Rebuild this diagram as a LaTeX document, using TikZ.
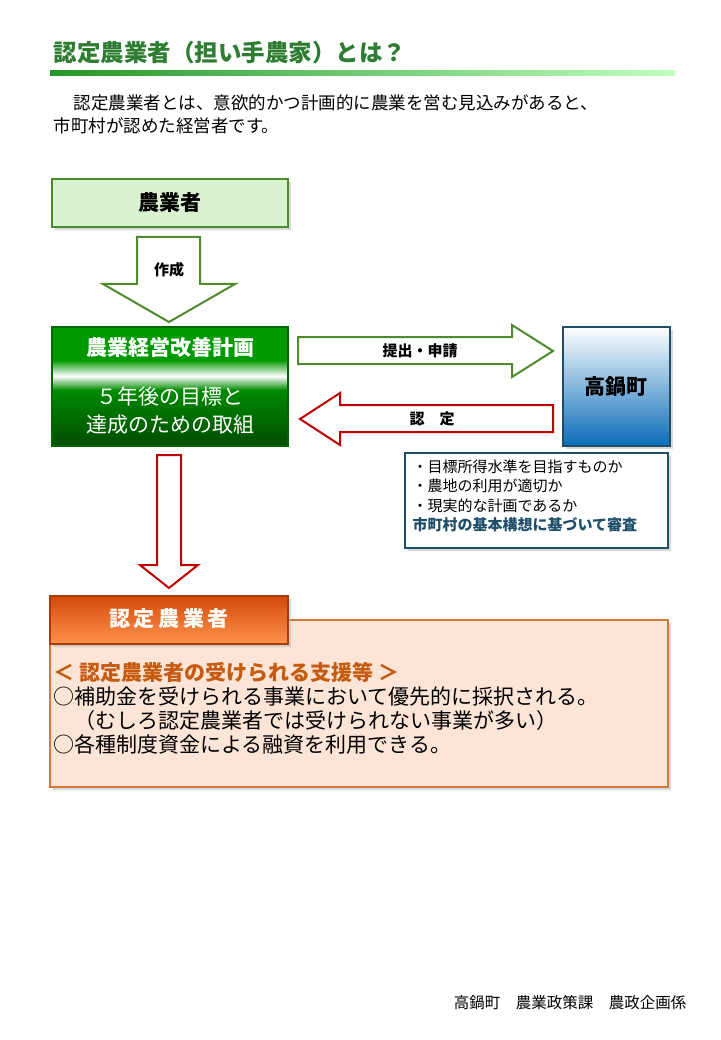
\documentclass[tikz,border=0pt]{standalone}
\usepackage{fontspec}
\setmainfont{Noto Sans CJK JP}
\usetikzlibrary{shadows}
\definecolor{ttlgreen}{HTML}{2E7D32}
\definecolor{lightgreen}{HTML}{D9F2D0}
\definecolor{boxgreen}{HTML}{4E8A2E}
\definecolor{navy}{HTML}{1F4E69}
\definecolor{townblue}{HTML}{0A6CB8}
\definecolor{orangedark}{HTML}{D24A0A}
\definecolor{peach}{HTML}{FCE4D6}
\definecolor{orangeline}{HTML}{D9773A}
\definecolor{redline}{HTML}{C00000}
\definecolor{textbrown}{HTML}{C55A11}
\tikzset{
  shade box/.style={drop shadow={shadow xshift=3pt,shadow yshift=-3pt,fill=gray!60}},
  blockarrow/.style={line width=2pt,fill=white,line join=miter},
  label txt/.style={font=\bfseries\fontsize{15}{17}\selectfont},
}
\begin{document}
\begin{tikzpicture}[x=1pt,y=-1pt]
    \useasboundingbox (0,0) rectangle (720,1040);
    %title
    \node[anchor=west,text=ttlgreen,font=\bfseries\fontsize{23.5}{26}\selectfont] (title) at (50,53) {認定農業者（担い手農家）とは？};
    \shade[left color=ttlgreen!80!green,right color=green!25] (50,71) rectangle (675,76);
    \node[anchor=west,font=\fontsize{17.5}{20}\selectfont] (intro1) at (70,103) {認定農業者とは、意欲的かつ計画的に農業を営む見込みがあると、};
    \node[anchor=west,font=\fontsize{17.5}{20}\selectfont] (intro2) at (50,126) {市町村が認めた経営者です。};
    %farmer
    \draw[line width=2.5pt,draw=boxgreen,fill=lightgreen,shade box] (52,179) rectangle (288,227);
    \node[font=\bfseries\fontsize{21}{23}\selectfont] (farmer) at (170,203) {農業者};
    \draw[blockarrow,draw=boxgreen] (137,237) -- (200,237) -- (200,284) -- (235,284) -- (169,322) -- (103,284) -- (137,284) -- cycle;
    \node[label txt] (make) at (169,270) {作成};
    %plan
    \fill[green!60!black] (52,327) rectangle (288,362);
    \shade[top color=green!55!black,bottom color=green!30!black] (52,388) rectangle (288,446);
    \shade[top color=green!60!black,bottom color=white] (52,360) rectangle (288,376);
    \shade[top color=white,bottom color=green!55!black] (52,376) rectangle (288,390);
    \draw[line width=2.5pt,draw=green!40!black] (52,327) rectangle (288,446);
    \node[text=white,font=\bfseries\fontsize{21}{23}\selectfont] (plan) at (170,348) {農業経営改善計画};
    \node[text=white,align=center,font=\fontsize{21}{28}\selectfont] (goal) at (170,411) {５年後の目標と\\達成のための取組};
    %town
    \shade[top color=white,bottom color=townblue,shade box] (563,327) rectangle (670,446);
    \draw[line width=2.5pt,draw=navy] (563,327) rectangle (670,446);
    \node[font=\bfseries\fontsize{21}{23}\selectfont] (town) at (616,387) {高鍋町};
    %arrows
    \draw[blockarrow,draw=boxgreen] (298,337) -- (512,337) -- (512,325) -- (553,351) -- (512,377) -- (512,364) -- (298,364) -- cycle;
    \node[label txt] (apply) at (420,351) {提出・申請};
    \draw[blockarrow,draw=redline] (553,405) -- (340,405) -- (340,393) -- (300,419) -- (340,445) -- (340,432) -- (553,432) -- cycle;
    \node[label txt] (approve) at (432,419) {認　定};
    %check
    \draw[line width=1.5pt,draw=navy,fill=white,shade box] (405,453) rectangle (668,548);
    \node[anchor=north west,align=left,font=\fontsize{15}{19.5}\selectfont] (check) at (409,456)
      {・目標所得水準を目指すものか\\・農地の利用が適切か\\・現実的な計画であるか\\ \textcolor{navy}{\bfseries 市町村の基本構想に基づいて審査}};
    \draw[blockarrow,draw=redline] (157,455) -- (181,455) -- (181,565) -- (198,565) -- (169,588) -- (140,565) -- (157,565) -- cycle;
    %result
    \draw[line width=1.5pt,draw=orangeline,fill=peach,shade box] (50,620) rectangle (668,787);
    \shade[top color=orangedark,bottom color=orange!80!red!70,shade box] (50,596) rectangle (288,644);
    \draw[line width=1.5pt,draw=orangedark!80!black] (50,596) rectangle (288,644);
    \node[text=white,font=\bfseries\fontsize{21}{23}\selectfont] (certified) at (169,619) {認\,定\,農\,業\,者};
    \node[anchor=north west,align=left,font=\fontsize{21}{24}\selectfont] (support) at (50,659)
      {\textcolor{textbrown}{\bfseries ＜ 認定農業者の受けられる支援等 ＞}\\○補助金を受けられる事業において優先的に採択される。\\\hspace{1em}（むしろ認定農業者では受けられない事業が多い）\\○各種制度資金による融資を利用できる。};
    %footer
    \node[anchor=east,font=\fontsize{15.5}{17}\selectfont] (footer) at (690,1003) {高鍋町　農業政策課　農政企画係};
\end{tikzpicture}
\end{document}
